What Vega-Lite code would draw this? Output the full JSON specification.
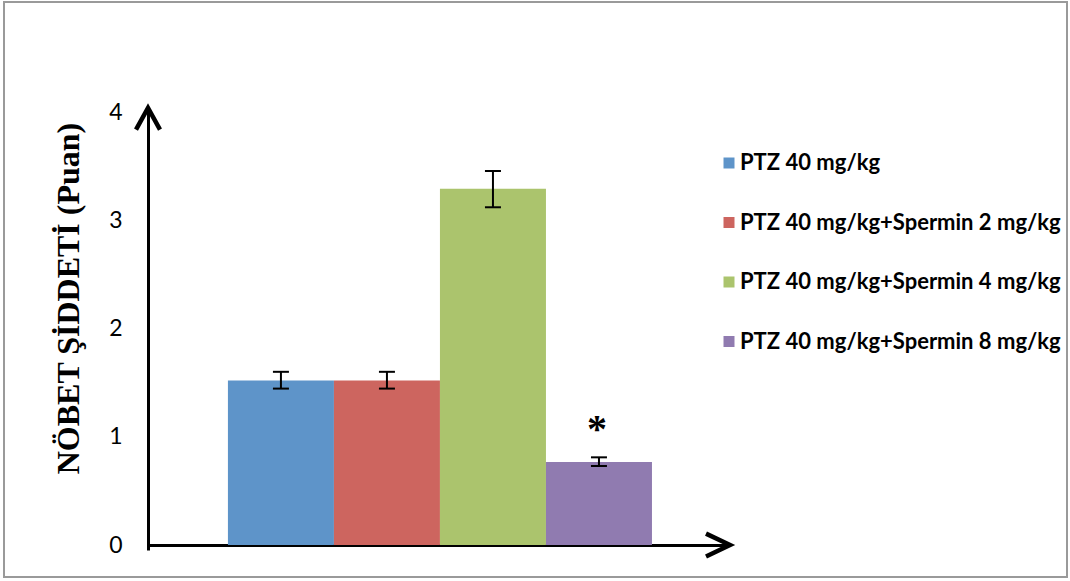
{
  "$schema": "https://vega.github.io/schema/vega-lite/v6.json",
  "width": 1063,
  "height": 575,
  "padding": {"left": 4, "top": 2, "right": 3, "bottom": 4},
  "autosize": {"type": "none"},
  "background": "white",
  "config": {"view": {"stroke": "#9a9a9a", "strokeWidth": 2}},
  "resolve": {"scale": {"x": "independent"}},
  "layer": [
    {
      "data": {
        "values": [
          {"group": "PTZ 40 mg/kg", "mean": 1.52, "lo": 1.445, "hi": 1.6, "sig": ""},
          {"group": "PTZ 40 mg/kg+Spermin 2 mg/kg", "mean": 1.52, "lo": 1.445, "hi": 1.6, "sig": ""},
          {"group": "PTZ 40 mg/kg+Spermin 4 mg/kg", "mean": 3.29, "lo": 3.12, "hi": 3.455, "sig": ""},
          {"group": "PTZ 40 mg/kg+Spermin 8 mg/kg", "mean": 0.767, "lo": 0.73, "hi": 0.81, "sig": "*"}
        ]
      },
      "encoding": {
        "x": {
          "field": "group", "type": "nominal", "sort": null,
          "scale": {"range": [144, 726], "paddingInner": 0, "paddingOuter": 0.745, "align": 0.506},
          "axis": {"orient": "bottom", "offset": -32, "domainColor": "black", "domainWidth": 3, "labels": false, "ticks": false, "title": null, "grid": false}
        }
      },
      "layer": [
        {
          "mark": {"type": "bar"},
          "encoding": {
            "y": {
              "field": "mean", "type": "quantitative",
              "scale": {"domain": [-0.046, 4.037], "range": [548, 106], "nice": false, "zero": true},
              "axis": {
                "values": [0, 1, 2, 3, 4], "format": "d", "grid": false, "ticks": false,
                "labelFont": "Lato", "labelFontSize": 23, "labelColor": "black", "labelPadding": 26,
                "domainColor": "black", "domainWidth": 3, "offset": -144,
                "title": "NÖBET ŞİDDETİ (Puan)", "titleFont": "Liberation Serif", "titleFontSize": 32,
                "titleFontWeight": "bold", "titleColor": "black", "titleX": -80, "titleY": 296,
                "titleAngle": 270, "titleAlign": "center", "titleBaseline": "middle"
              }
            },
            "color": {
              "field": "group", "type": "nominal", "sort": null,
              "scale": {
                "domain": ["PTZ 40 mg/kg", "PTZ 40 mg/kg+Spermin 2 mg/kg", "PTZ 40 mg/kg+Spermin 4 mg/kg", "PTZ 40 mg/kg+Spermin 8 mg/kg"],
                "range": ["#5E94C9", "#CD655F", "#ABC46D", "#907BB0"]
              },
              "legend": {
                "orient": "none", "legendX": 714, "legendY": 150, "title": null,
                "symbolType": "square", "symbolSize": 121, "symbolStrokeWidth": 0, "symbolOpacity": 1,
                "labelFont": "Lato", "labelFontSize": 22, "labelFontWeight": "bold", "labelColor": "black",
                "rowPadding": 37.5, "labelOffset": 0, "labelLimit": 400
              }
            }
          }
        },
        {
          "mark": {"type": "rule", "color": "black", "strokeWidth": 2},
          "encoding": {
            "y": {"field": "lo", "type": "quantitative"},
            "y2": {"field": "hi"}
          }
        },
        {
          "mark": {"type": "tick", "color": "black", "thickness": 2, "size": 16, "opacity": 1},
          "encoding": {"y": {"field": "lo", "type": "quantitative"}}
        },
        {
          "mark": {"type": "tick", "color": "black", "thickness": 2, "size": 16, "opacity": 1},
          "encoding": {"y": {"field": "hi", "type": "quantitative"}}
        },
        {
          "mark": {"type": "text", "font": "Liberation Serif", "fontSize": 40, "fontWeight": "bold", "baseline": "alphabetic", "dy": -15, "dx": -2, "color": "black"},
          "encoding": {
            "y": {"field": "hi", "type": "quantitative"},
            "text": {"field": "sig"}
          }
        }
      ]
    },
    {
      "data": {"values": [{}]},
      "layer": [
        {
          "mark": {"type": "point", "shape": "M-1,1.8L0,0L1,1.8", "filled": false, "color": "black", "strokeWidth": 4.5, "size": 576, "opacity": 1},
          "encoding": {
            "x": {"datum": 0, "type": "quantitative", "scale": {"domain": [0, 1], "range": [144, 726]}, "axis": null},
            "y": {"datum": 4.037, "type": "quantitative"}
          }
        },
        {
          "mark": {"type": "point", "shape": "M-2,-0.95L0,0L-2,0.95", "filled": false, "color": "black", "strokeWidth": 4.5, "size": 576, "opacity": 1},
          "encoding": {
            "x": {"datum": 1, "type": "quantitative", "scale": {"domain": [0, 1], "range": [144, 726]}, "axis": null},
            "y": {"datum": 0, "type": "quantitative"}
          }
        }
      ]
    }
  ]
}
